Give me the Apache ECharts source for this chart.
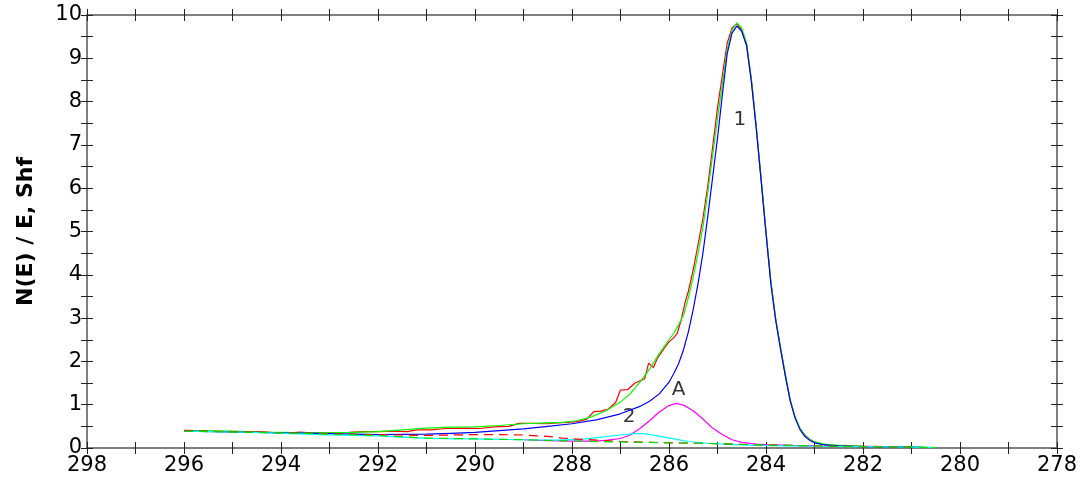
<!DOCTYPE html>
<html>
<head>
<meta charset="utf-8">
<script src="https://cdn.jsdelivr.net/npm/echarts@6/dist/echarts.min.js"></script>
<style>
  html, body { margin: 0; padding: 0; background: #fff; }
  #chart { width: 1080px; height: 486px; }
</style>
</head>
<body>
<div id="chart"></div>
<script>
// measured spectrum (binding energy, intensity)
var rawData = [[296,0.41],[295.8,0.40],[295.5,0.39],[295.1,0.38],[294.8,0.38],[294.5,0.38],[294.2,0.36],[293.8,0.35],[293.6,0.37],[293.4,0.35],[293,0.35],[292.6,0.36],[292.3,0.38],[292,0.38],[291.7,0.39],[291.4,0.38],[291.2,0.42],[290.9,0.42],[290.6,0.45],[290.2,0.46],[289.9,0.45],[289.6,0.49],[289.3,0.5],[289.1,0.57],[288.8,0.57],[288.5,0.56],[288.3,0.58],[288.1,0.59],[287.9,0.61],[287.7,0.66],[287.55,0.84],[287.4,0.85],[287.25,0.9],[287.1,1.05],[287.0,1.34],[286.85,1.35],[286.7,1.5],[286.5,1.6],[286.42,1.96],[286.32,1.86],[286.24,2.07],[286.1,2.3],[286.0,2.45],[285.9,2.55],[285.83,2.65],[285.75,2.95],[285.67,3.35],[285.6,3.62],[285.5,4.12],[285.4,4.7],[285.3,5.3],[285.2,6.05],[285.1,6.95],[285.0,7.85],[284.9,8.6],[284.8,9.35],[284.7,9.7],[284.6,9.8],[284.5,9.65],[284.4,9.3],[284.3,8.5],[284.2,7.4],[284.1,6.2],[284.0,5.0],[283.9,3.85],[283.8,2.98],[283.7,2.3],[283.6,1.68],[283.5,1.1],[283.4,0.72],[283.3,0.45],[283.2,0.3],[283.1,0.2],[283.0,0.14],[282.8,0.08],[282.5,0.05],[282,0.04],[281.5,0.03],[281,0.02]];

// fit envelope
var envelope = [[296,0.40],[295,0.39],[294.5,0.37],[294,0.36],[293.5,0.35],[293,0.35],[292.5,0.36],[292,0.38],[291.5,0.42],[291,0.46],[290.5,0.48],[290,0.49],[289.5,0.52],[289,0.56],[288.5,0.58],[288.2,0.59],[287.9,0.63],[287.6,0.72],[287.3,0.86],[287.0,1.06],[286.8,1.25],[286.6,1.52],[286.4,1.82],[286.2,2.18],[286.0,2.5],[285.9,2.65],[285.8,2.85],[285.7,3.07],[285.6,3.47],[285.5,3.95],[285.4,4.5],[285.3,5.1],[285.2,5.9],[285.1,6.75],[285.0,7.6],[284.9,8.4],[284.8,9.2],[284.7,9.65],[284.6,9.82],[284.5,9.7],[284.4,9.35],[284.3,8.5],[284.2,7.42],[284.1,6.22],[284.0,5.0],[283.9,3.85],[283.8,2.98],[283.7,2.32],[283.6,1.7],[283.5,1.12],[283.4,0.72],[283.3,0.46],[283.2,0.3],[283.1,0.2],[283.0,0.14],[282.8,0.09],[282.5,0.06],[282,0.04],[281.5,0.03],[281,0.02],[280.5,0.01]];

// component 1 (C-C)
var peak1 = [[296,0.39],[295,0.37],[294,0.35],[293,0.33],[292,0.31],[291,0.32],[290.5,0.34],[290,0.36],[289.5,0.4],[289,0.44],[288.5,0.5],[288,0.56],[287.5,0.65],[287.0,0.79],[286.6,0.96],[286.4,1.08],[286.2,1.25],[286.0,1.52],[285.9,1.72],[285.8,1.95],[285.7,2.27],[285.6,2.68],[285.5,3.2],[285.4,3.8],[285.3,4.5],[285.2,5.35],[285.1,6.25],[285.0,7.15],[284.9,8.15],[284.8,9.1],[284.7,9.58],[284.6,9.75],[284.5,9.62],[284.4,9.3],[284.3,8.45],[284.2,7.38],[284.1,6.18],[284.0,4.96],[283.9,3.8],[283.8,2.95],[283.7,2.29],[283.6,1.66],[283.5,1.09],[283.4,0.69],[283.3,0.43],[283.2,0.27],[283.1,0.18],[283.0,0.12],[282.8,0.07],[282.5,0.05],[282,0.03],[281,0.02],[280.6,0.01]];

// component A
var peakA = [[289,0.19],[288.5,0.17],[288,0.16],[287.5,0.16],[287.27,0.18],[287.0,0.22],[286.8,0.3],[286.6,0.45],[286.4,0.63],[286.2,0.83],[286.0,0.98],[285.85,1.03],[285.7,0.99],[285.5,0.86],[285.3,0.67],[285.1,0.46],[284.9,0.31],[284.7,0.19],[284.5,0.13],[284.2,0.09],[284.0,0.08],[283.5,0.06],[283,0.05]];

// component 2
var peak2 = [[296,0.39],[295,0.37],[294.2,0.35],[293.2,0.31],[292.5,0.29],[292,0.28],[291.5,0.25],[291,0.22],[290,0.21],[289,0.19],[288.3,0.18],[287.8,0.2],[287.4,0.25],[287.0,0.3],[286.7,0.33],[286.5,0.33],[286.3,0.29],[286.1,0.25],[285.9,0.21],[285.6,0.15],[285.2,0.11],[284.9,0.09],[284.5,0.07],[284.2,0.06],[283.5,0.05],[283,0.04],[282,0.03],[281,0.02],[280.6,0.01]];

// component 3 (dashed red) and background (dashed green)
var peak3 = [[296,0.40],[293,0.33],[292,0.31],[291,0.29],[290.5,0.3],[290,0.31],[289.5,0.31],[289,0.3],[288.5,0.27],[288.2,0.23],[287.8,0.2],[287.3,0.17],[287,0.15],[286,0.12],[285,0.1],[284,0.07],[283,0.05],[282,0.03],[281,0.02]];
var background = [[296,0.39],[294,0.35],[293,0.32],[292,0.29],[291,0.23],[290,0.21],[289,0.19],[288.3,0.17],[287.5,0.15],[287,0.14],[286,0.12],[285,0.1],[284,0.07],[283,0.05],[282,0.03],[281,0.02],[280.6,0.01]];

var peakLabels = [[284.54,7.57,'1'],[285.8,1.34,'A'],[286.82,0.71,'2']];

var font = '"DejaVu Sans", Arial, sans-serif';
var axisCol = '#555';

function xAx(pos, inside, main) {
    return {
        type: 'value', position: pos, min: 278, max: 298, interval: 1, inverse: true,
        axisLine: { show: main, onZero: false, lineStyle: { color: axisCol, width: 1.5 } },
        axisTick: { show: true, inside: inside, length: 6, lineStyle: { color: '#222', width: 1 } },
        axisLabel: {
            show: main && pos === 'bottom', margin: 7, color: '#000', fontSize: 21, fontFamily: font,
            formatter: function (v) { return v % 2 === 0 ? String(v) : ''; }
        },
        splitLine: { show: false }
    };
}
function yAx(pos, inside, main) {
    var a = {
        type: 'value', position: pos, min: 0, max: 10, interval: 0.5,
        axisLine: { show: main, onZero: false, lineStyle: { color: axisCol, width: 1.5 } },
        axisTick: { show: true, inside: inside, length: 6, lineStyle: { color: '#222', width: 1 } },
        axisLabel: {
            show: main && pos === 'left', margin: 5, color: '#000', fontSize: 21, fontFamily: font,
            formatter: function (v) { return v % 1 === 0 ? String(v) : ''; }
        },
        splitLine: { show: false }
    };
    if (main && pos === 'left') {
        a.name = 'N(E) / E, Shf';
        a.nameLocation = 'middle';
        a.nameGap = 50;
        a.nameTextStyle = { color: '#000', fontSize: 22, fontWeight: 'bold', fontFamily: font };
    }
    return a;
}

function line(name, data, color, dashed) {
    return {
        name: name, type: 'line', data: data, symbol: 'none', smooth: false,
        xAxisIndex: 0, yAxisIndex: 0,
        lineStyle: { color: color, width: 1.2, type: dashed ? [9, 6] : 'solid' }
    };
}

var chart = echarts.init(document.getElementById('chart'));
var option = {
    animation: false,
    backgroundColor: '#fff',
    grid: { left: 87, right: 19, top: 15, bottom: 38 },
    xAxis: [xAx('bottom', false, true), xAx('bottom', true, false), xAx('top', false, true), xAx('top', true, false)],
    yAxis: [yAx('left', false, true), yAx('left', true, false), yAx('right', false, true), yAx('right', true, false)],
    series: [
        line('raw', rawData, '#ff0000', false),
        line('envelope', envelope, '#00ff00', false),
        line('peak1', peak1, '#0000ff', false),
        line('peakA', peakA, '#ff00ff', false),
        line('peak2', peak2, '#00ffff', false),
        line('peak3', peak3, '#ff0000', true),
        line('background', background, '#00dd00', true),
        {
            type: 'scatter', symbolSize: 0, data: peakLabels,
            label: {
                show: true, position: 'inside', color: '#000', fontSize: 20, fontFamily: font,
                formatter: function (p) { return p.data[2]; }
            }
        }
    ]
};
chart.setOption(option);
</script>
</body>
</html>
